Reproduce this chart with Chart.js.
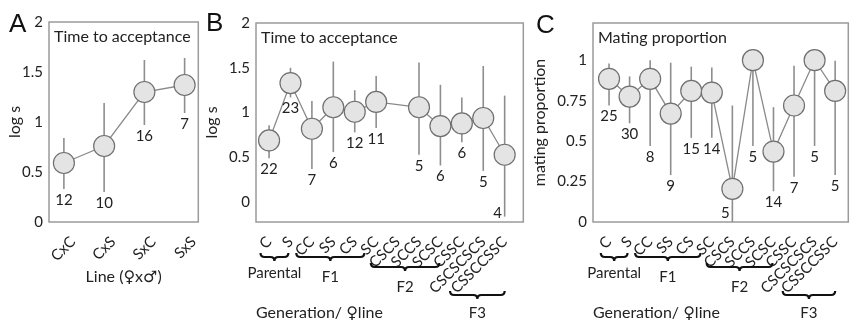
<!DOCTYPE html>
<html>
<head>
<meta charset="utf-8">
<script src="https://cdn.jsdelivr.net/npm/chart.js@4.4.0/dist/chart.umd.min.js"></script>
<style>
html, body { margin: 0; padding: 0; background: #fff; overflow: hidden; }
#wrap { position: relative; width: 857px; height: 327px; }
canvas { position: absolute; top: 0; }
.letter { position: absolute; font-family: "Liberation Sans", Arial, sans-serif; font-size: 26px; line-height: 1; color: #111; }
</style>
</head>
<body>
<div id="wrap">
  <canvas id="chartA" width="210" height="327" style="left:0px"></canvas>
  <canvas id="chartB" width="335" height="327" style="left:200px"></canvas>
  <canvas id="chartC" width="330" height="327" style="left:530px"></canvas>
  <div class="letter" style="left:9px;top:10px">A</div>
  <div class="letter" style="left:206px;top:9px">B</div>
  <div class="letter" style="left:536px;top:11px">C</div>
</div>
<script>
// panel A - crosses
var crossLabels = ['CxC', 'CxS', 'SxC', 'SxS'];
var crossMean = [0.59, 0.76, 1.30, 1.37];
var crossLow  = [0.33, 0.30, 0.97, 1.09];
var crossHigh = [0.84, 1.19, 1.62, 1.64];
var crossN    = [12, 10, 16, 7];

// panels B and C - generations / female line
var lineLabels = ['C', 'S', 'CC', 'SS', 'CS', 'SC', 'CSCS', 'SCCS', 'SCSC', 'CSSC', 'CSCSCSCS', 'CSSCCSSC'];

var timeMean = [0.69, 1.33, 0.82, 1.06, 1.01, 1.12, null, 1.06, 0.85, 0.88, 0.94, 0.53];
var timeLow  = [0.49, 1.17, 0.37, 0.56, 0.78, 0.83, null, 0.53, 0.41, 0.67, 0.35, -0.16];
var timeHigh = [0.86, 1.50, 1.13, 1.57, 1.25, 1.41, null, 1.56, 1.31, 1.17, 1.52, 1.19];
var timeN    = [22, 23, 7, 6, 12, 11, null, 5, 6, 6, 5, 4];

var mateMean = [0.885, 0.775, 0.885, 0.67, 0.81, 0.80, 0.205, 1.0, 0.435, 0.72, 1.0, 0.81];
var mateLow  = [0.72, 0.61, 0.47, 0.29, 0.52, 0.52, 0, 0.47, 0.19, 0.28, 0.47, 0.29];
var mateHigh = [0.98, 0.90, 1.0, 0.985, 0.96, 0.955, 0.72, 1.0, 0.71, 0.965, 1.0, 0.997];
var mateN    = [25, 30, 8, 9, 15, 14, 5, 5, 14, 7, 5, 5];

var genGroups = ['Parental', 'F1', 'F2', 'F3'];

var FONT = 'Lato, "DejaVu Sans", sans-serif';
Chart.defaults.font.family = FONT;
Chart.defaults.font.size = 14;
Chart.defaults.color = '#222';

function brace(ctx, x1, x2, y) {
  var m = (x1 + x2) / 2, h = 4;
  ctx.beginPath();
  ctx.moveTo(x1, y - h);
  ctx.quadraticCurveTo(x1, y, x1 + h, y);
  ctx.lineTo(m - h, y);
  ctx.quadraticCurveTo(m, y, m, y + h);
  ctx.quadraticCurveTo(m, y, m + h, y);
  ctx.lineTo(x2 - h, y);
  ctx.quadraticCurveTo(x2, y, x2, y - h);
  ctx.stroke();
}

var decor = {
  id: 'decor',
  beforeDatasetsDraw: function(chart, args, o) {
    var ctx = chart.ctx, a = chart.chartArea, x = chart.scales.x, y = chart.scales.y;
    ctx.save();
    ctx.strokeStyle = '#9b9b9b';
    ctx.lineWidth = 1.5;
    ctx.strokeRect(a.left, a.top, a.right - a.left, a.bottom - a.top);
    ctx.strokeStyle = '#8e8e8e';
    ctx.lineWidth = 1.6;
    o.low.forEach(function(lo, i) {
      if (lo == null) return;
      var px = x.getPixelForValue(i);
      ctx.beginPath();
      ctx.moveTo(px, y.getPixelForValue(lo));
      ctx.lineTo(px, y.getPixelForValue(o.high[i]));
      ctx.stroke();
    });
    ctx.restore();
  },
  afterDatasetsDraw: function(chart, args, o) {
    var ctx = chart.ctx, a = chart.chartArea, x = chart.scales.x, y = chart.scales.y;
    ctx.save();
    ctx.fillStyle = '#222';
    ctx.font = '16px ' + FONT;
    ctx.textBaseline = 'middle';
    ctx.textAlign = 'left';
    ctx.fillText(o.title, a.left + 5, a.top + 15);

    ctx.font = '15px ' + FONT;
    ctx.textAlign = 'center';
    o.n.forEach(function(n, i) {
      if (n == null) return;
      var px = x.getPixelForValue(i);
      var py = y.getPixelForValue(o.low[i]) + 11;
      if (py > a.bottom - 6) { py = a.bottom - 9; px -= 7; }
      ctx.fillText(String(n), px, py);
    });

    if (o.groups) {
      ctx.strokeStyle = '#111';
      ctx.lineWidth = 2.2;
      ctx.font = '15px ' + FONT;
      o.groups.forEach(function(g) {
        var x1 = x.getPixelForValue(g.from), x2 = x.getPixelForValue(g.to);
        brace(ctx, x1, x2, g.y);
        ctx.fillText(g.name, (x1 + x2) / 2, g.ty);
      });
    }
    ctx.restore();
  }
};

function makePanel(id, cfg) {
  var points = cfg.mean.map(function(v, i) { return { x: i, y: v }; });
  return new Chart(document.getElementById(id), {
    type: 'line',
    data: {
      datasets: [{
        data: points,
        spanGaps: true,
        borderColor: '#8a8a8a',
        borderWidth: 1.3,
        tension: 0,
        pointRadius: 10.5,
        pointBackgroundColor: '#e4e4e4',
        pointBorderColor: '#707070',
        pointBorderWidth: 1.2
      }]
    },
    options: {
      responsive: false,
      animation: false,
      events: [],
      layout: { padding: cfg.padding },
      plugins: {
        legend: { display: false },
        tooltip: { enabled: false },
        decor: { title: cfg.title, low: cfg.low, high: cfg.high, n: cfg.n, groups: cfg.groups }
      },
      scales: {
        x: {
          type: 'linear',
          min: cfg.xMin,
          max: cfg.xMax,
          grid: { display: false, drawTicks: false },
          border: { display: false },
          afterBuildTicks: function(s) { s.ticks = cfg.labels.map(function(l, i) { return { value: i }; }); },
          afterFit: function(s) { s.height = cfg.xHeight; },
          ticks: {
            autoSkip: false,
            minRotation: 45,
            maxRotation: 45,
            padding: 11,
            labelOffset: cfg.labelOffset,
            font: { size: 15 },
            color: '#222',
            callback: function(v) { return cfg.labels[v]; }
          },
          title: {
            display: true,
            text: cfg.xTitle,
            align: cfg.xAlign,
            font: { size: 16 },
            color: '#222',
            padding: { top: 0, bottom: cfg.xTitlePad }
          }
        },
        y: {
          min: cfg.yMin,
          max: cfg.yMax,
          grid: { display: false, drawTicks: false },
          border: { display: false },
          afterBuildTicks: function(s) { s.ticks = cfg.yTicks.map(function(v) { return { value: v }; }); },
          afterFit: function(s) { s.width = cfg.yWidth; },
          ticks: {
            padding: 6,
            font: { size: 15 },
            color: '#222',
            callback: function(v) { return String(Math.round(v * 100) / 100); }
          },
          title: {
            display: true,
            text: cfg.yTitle,
            font: { size: 16 },
            color: '#222',
            padding: { top: cfg.yTitlePad, bottom: 0 }
          }
        }
      }
    },
    plugins: [decor]
  });
}

makePanel('chartA', {
  labels: crossLabels, mean: crossMean, low: crossLow, high: crossHigh, n: crossN,
  title: 'Time to acceptance', xTitle: 'Line (\u2640x\u2642)', xAlign: 'center', xTitlePad: 1,
  yTitle: 'log s', yTitlePad: 5, labelOffset: 9,
  xMin: -0.37, xMax: 3.34, yMin: 0, yMax: 2, yTicks: [0, 0.5, 1, 1.5, 2],
  padding: { left: 0, top: 22, right: 10, bottom: 40 }, yWidth: 49, xHeight: 65
});

var groupSpans = [
  { from: -0.4, to: 0.9, y: 257, ty: 273 },
  { from: 1.27, to: 4.45, y: 257, ty: 277 },
  { from: 4.75, to: 7.95, y: 267, ty: 287 },
  { from: 8.45, to: 11.0, y: 295, ty: 313 }
];
var groups = genGroups.map(function(name, i) {
  return Object.assign({ name: name }, groupSpans[i]);
});

makePanel('chartB', {
  labels: lineLabels, mean: timeMean, low: timeLow, high: timeHigh, n: timeN, groups: groups,
  title: 'Time to acceptance', xTitle: 'Generation/ \u2640line', xAlign: 'start', xTitlePad: 5,
  yTitle: 'log s', yTitlePad: 2, labelOffset: 0,
  xMin: -0.61, xMax: 11.87, yMin: -0.22, yMax: 2, yTicks: [0, 0.5, 1, 1.5, 2],
  padding: { left: 0, top: 23, right: 7, bottom: 0 }, yWidth: 56, xHeight: 105
});

makePanel('chartC', {
  labels: lineLabels, mean: mateMean, low: mateLow, high: mateHigh, n: mateN, groups: groups,
  title: 'Mating proportion', xTitle: 'Generation/ \u2640line', xAlign: 'start', xTitlePad: 5,
  yTitle: 'mating proportion', yTitlePad: 0, labelOffset: 0,
  xMin: -0.78, xMax: 11.64, yMin: 0, yMax: 1.23, yTicks: [0, 0.25, 0.5, 0.75, 1],
  padding: { left: 0, top: 23, right: 0, bottom: 0 }, yWidth: 63, xHeight: 105
});
</script>
</body>
</html>
